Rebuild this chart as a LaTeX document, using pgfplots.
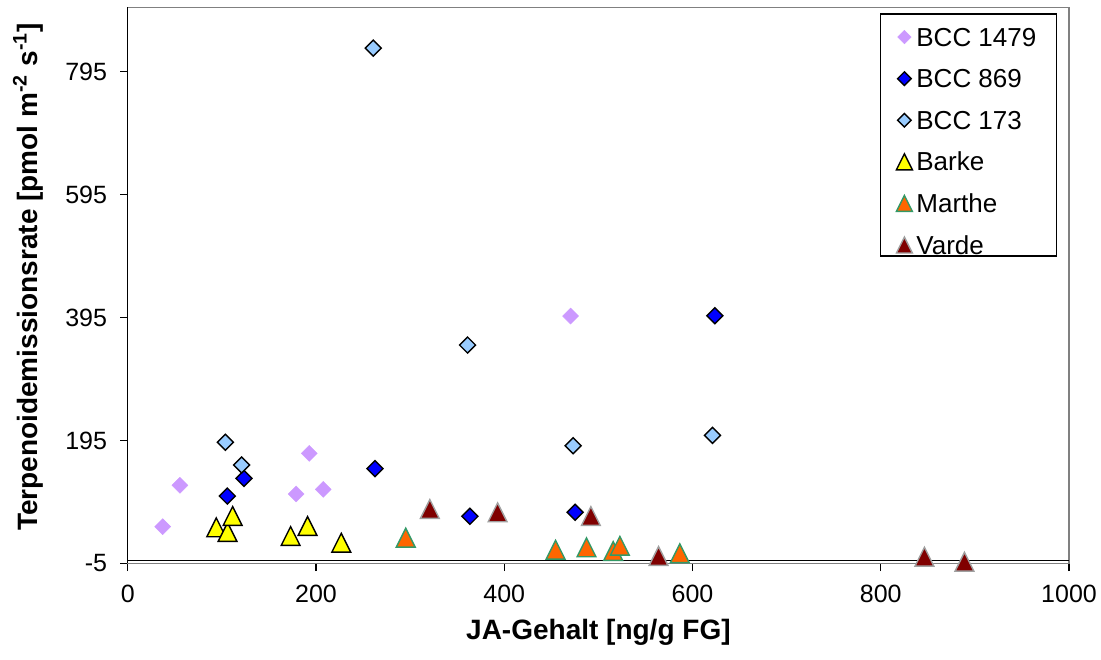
\documentclass[border=0pt]{standalone}
\usepackage{pgfplots}
\pgfplotsset{compat=1.18}
\usepackage{fontspec}
\setmainfont{Liberation Sans}

\definecolor{lilac}{HTML}{CC99FF}
\definecolor{bccblue}{HTML}{0000FF}
\definecolor{skyblue}{HTML}{99CCFF}
\definecolor{barkeyellow}{HTML}{FFFF00}
\definecolor{marthefill}{HTML}{FF6600}
\definecolor{marthedraw}{HTML}{339966}
\definecolor{vardefill}{HTML}{800000}
\definecolor{vardedraw}{HTML}{A0A0A0}
\definecolor{framegray}{HTML}{808080}

% square diamond (equal width and height)
\pgfdeclareplotmark{rdiamond*}{%
  \pgfpathmoveto{\pgfqpoint{0pt}{\pgfplotmarksize}}%
  \pgfpathlineto{\pgfqpoint{\pgfplotmarksize}{0pt}}%
  \pgfpathlineto{\pgfqpoint{0pt}{-\pgfplotmarksize}}%
  \pgfpathlineto{\pgfqpoint{-\pgfplotmarksize}{0pt}}%
  \pgfpathclose
  \pgfusepathqfillstroke}
% triangle centred on its bounding box
\pgfdeclareplotmark{btriangle*}{%
  \pgfpathmoveto{\pgfqpoint{0pt}{\pgfplotmarksize}}%
  \pgfpathlineto{\pgfqpoint{\pgfplotmarksize}{-\pgfplotmarksize}}%
  \pgfpathlineto{\pgfqpoint{-\pgfplotmarksize}{-\pgfplotmarksize}}%
  \pgfpathclose
  \pgfusepathqfillstroke}

\begin{document}
\begin{tikzpicture}
\begin{axis}[
  at={(0,0)}, anchor=south west,
  scale only axis, width=470.6pt, height=278pt,
  xmin=0, xmax=1000, ymin=-5, ymax=900,
  xtick={0,200,...,1000}, ytick={-5,195,395,595,795},
  tick pos=left, tick align=outside, major tick length=3.85pt,
  tick style={black, line width=0.6pt},
  axis line style={framegray, line width=0.6pt},
  ticklabel style={font=\fontsize{12.5}{14}\selectfont},
  xticklabel style={yshift=-3.5pt},
  yticklabel style={xshift=-3pt},
  /pgf/number format/assume math mode=true,
  /pgf/number format/1000 sep={},
  scaled ticks=false,
  xlabel={JA-Gehalt [ng/g FG]},
  ylabel={Terpenoidemissionsrate [pmol m\textsuperscript{-2} s\textsuperscript{-1}]},
  every axis x label/.style={at={(rel axis cs:0.5,-0.1236)}, anchor=center,
    font=\bfseries\fontsize{14}{16}\selectfont},
  every axis y label/.style={at={(rel axis cs:-0.106,0.515)}, anchor=center, rotate=90,
    font=\bfseries\fontsize{14}{16}\selectfont},
  legend style={at={(rel axis cs:0.799,0.989)}, anchor=north west,
    draw=black, line width=0.6pt, fill=white,
    font=\fontsize{13}{15}\selectfont,
    inner xsep=8pt, inner ysep=1pt, row sep=5.8pt, column sep=0pt,
    nodes={text height=15pt, text depth=0pt, inner ysep=0pt, inner xsep=2pt}},
  legend cell align=left,
  legend image code/.code={\draw[mark repeat=2,mark phase=2] plot coordinates {(0pt,-3pt)(4pt,-3pt)(8pt,-3pt)};},
  legend image post style={/tikz/every mark/.append style={scale=0.85}},
  clip=false,
]
% axis lines at x=0 and y=0
\draw[black, line width=0.6pt] (axis cs:0,-5) -- (axis cs:0,900);
\draw[black, line width=0.6pt] (axis cs:0,0) -- (axis cs:1000,0);

\addplot[only marks, mark=rdiamond*, mark size=4pt,
  mark options={fill=lilac, draw=lilac, line width=0.2pt}] coordinates {
  (37.1,54.6) (55.4,122) (178.8,107.9) (192.8,174) (207.6,115.4) (470.4,397.5)
};
\addlegendentry{BCC 1479}

\addplot[only marks, mark=rdiamond*, mark size=4pt,
  mark options={fill=bccblue, draw=black, line width=0.7pt}] coordinates {
  (105.7,104.5) (123.4,133.3) (262.6,149.1) (363.5,71.5) (475.3,78) (623.7,398)
};
\addlegendentry{BCC 869}

\addplot[only marks, mark=rdiamond*, mark size=4pt,
  mark options={fill=skyblue, draw=black, line width=0.7pt}] coordinates {
  (103.6,192) (121,155) (260.8,833.6) (361,350.2) (473.2,186.4) (621.2,203.3)
};
\addlegendentry{BCC 173}

\addplot[only marks, mark=btriangle*, mark size=4.7pt,
  mark options={fill=barkeyellow, draw=black, line width=0.7pt}] coordinates {
  (94,53.6) (106,46) (111.4,72) (173,39.4) (191,55.7) (226.8,28.5)
};
\addlegendentry{Barke}

\addplot[only marks, mark=btriangle*, mark size=4.7pt,
  mark options={fill=marthefill, draw=marthedraw, line width=0.7pt}] coordinates {
  (295.3,36.7) (454.5,17.1) (487.4,21) (515.7,15) (522.8,23.6) (586.5,11.3)
};
\addlegendentry{Marthe}

\addplot[only marks, mark=btriangle*, mark size=4.7pt,
  mark options={fill=vardefill, draw=vardedraw, line width=0.7pt}] coordinates {
  (320.9,83.4) (392.9,78) (492,72) (563.9,6.9) (846.4,5.8) (888.9,-2.4)
};
\addlegendentry{Varde}
\end{axis}
\pgfresetboundingbox
\path[use as bounding box] (-63.9pt,-47.85pt) rectangle (486.6pt,281.65pt);
\end{tikzpicture}
\end{document}
